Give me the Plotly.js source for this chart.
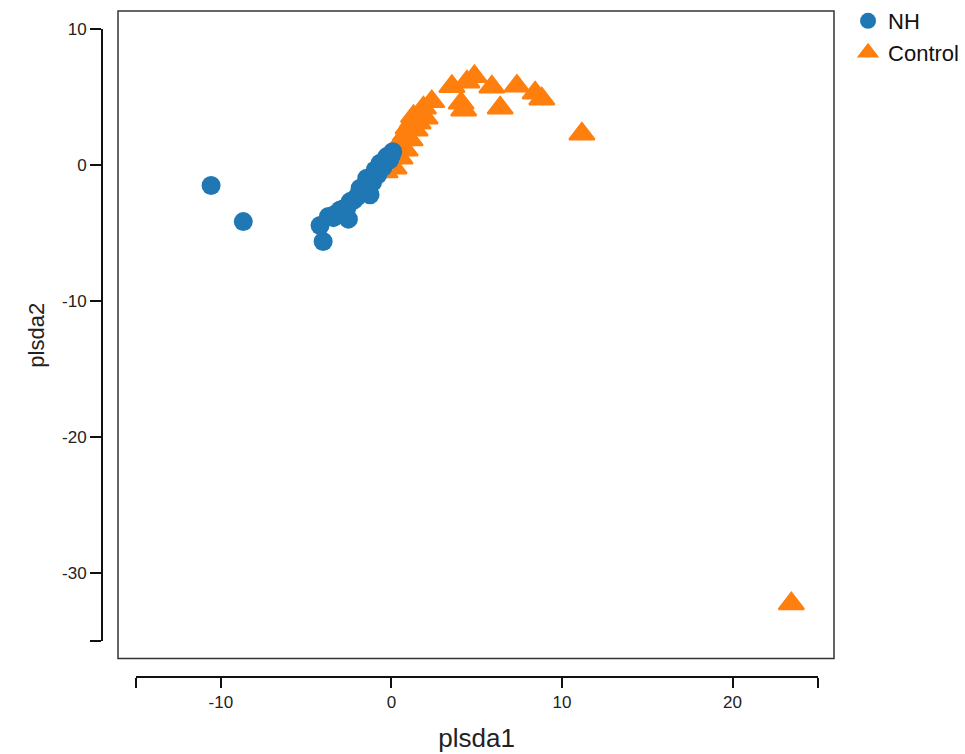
<!DOCTYPE html>
<html>
<head>
<meta charset="utf-8">
<script src="https://cdn.plot.ly/plotly-3.0.1.min.js"></script>
<style>html,body{margin:0;padding:0;background:#fff;}#chart{width:965px;height:754px;}</style>
</head>
<body>
<div id="chart"></div>
<script>
// NH group (blue circles)
const nhX = [-10.57, -8.68, -4.0, -4.18, -3.69, -2.52, -2.42, -3.0, -1.25, -1.83, -2.0, -1.44, -0.95, -0.66, -0.27, 0.08, -3.4, -2.8, -2.2, -1.6, -1.1, -0.8, -0.5, -0.1, -1.35, -0.4, 0.0, -1.9, -2.6, -3.3];
const nhY = [-1.49, -4.14, -5.6, -4.43, -3.77, -3.96, -2.67, -3.28, -2.17, -1.68, -2.3, -0.95, -0.34, 0.15, 0.64, 1.0, -3.85, -3.2, -2.55, -1.8, -1.25, -0.7, -0.15, 0.4, -1.4, 0.3, 0.75, -2.1, -3.1, -3.6];

// Control group (orange triangles)
const ctrlX = [4.87, 4.43, 3.55, 5.89, 7.36, 8.43, 8.82, 4.09, 4.24, 6.38, 11.17, 23.45, 2.37, 1.88, 1.3, 1.69, 1.22, 0.98, 0.81, 0.63, 0.4, 1.1, 0.22, -0.07, -0.25, 0.51, 0.81, 0.16, -0.37, 1.39, 1.98, 1.57];
const ctrlY = [6.53, 6.13, 5.8, 5.76, 5.83, 5.32, 4.88, 4.58, 4.07, 4.22, 2.31, -32.24, 4.69, 4.22, 3.59, 3.85, 3.19, 2.75, 2.23, 1.87, 1.43, 1.87, 0.98, 0.54, 0.18, 0.54, 1.13, -0.19, -0.48, 2.6, 3.48, 3.12];

// Axis ticks
const xTickVals = [-15, -10, 0, 10, 20, 25];
const xTickText = ['', '-10', '0', '10', '20', ''];
const yTickVals = [-35, -30, -20, -10, 0, 10];
const yTickText = ['', '-30', '-20', '-10', '0', '10'];

const seriesNames = ['NH', 'Control'];
const FONT = 'Liberation Sans, Arial, Helvetica, sans-serif';

const traces = [
  {
    x: ctrlX, y: ctrlY, name: seriesNames[1], type: 'scatter', mode: 'markers',
    marker: {symbol: 'triangle-up', size: 22, color: '#ff7f0e', line: {color: '#ff7f0e', width: 2}},
    legendrank: 2, hoverinfo: 'x+y'
  },
  {
    x: nhX, y: nhY, name: seriesNames[0], type: 'scatter', mode: 'markers',
    marker: {symbol: 'circle', size: 19, color: '#1f77b4'},
    legendrank: 1, hoverinfo: 'x+y'
  }
];

const layout = {
  width: 965, height: 754,
  margin: {l: 102, r: 131.3, t: 11, b: 76.5, pad: 0},
  paper_bgcolor: '#ffffff',
  plot_bgcolor: 'rgba(0,0,0,0)',
  font: {family: FONT, color: '#222'},
  showlegend: true,
  legend: {
    xref: 'container', yref: 'container',
    x: 0.8788, xanchor: 'left', y: 1.003, yanchor: 'top',
    font: {family: FONT, size: 22, color: '#111'},
    bgcolor: 'rgba(0,0,0,0)', itemsizing: 'trace', tracegroupgap: 0
  },
  xaxis: {
    domain: [0.04578, 0.97786], range: [-15, 25], anchor: 'free', position: 0,
    showline: true, linecolor: '#111', linewidth: 2,
    ticks: 'outside', ticklen: 10, tickwidth: 2, tickcolor: '#111',
    tickvals: xTickVals, ticktext: xTickText,
    tickfont: {family: FONT, size: 17, color: '#222'},
    showgrid: false, zeroline: false,
    title: {text: 'plsda1', font: {family: FONT, size: 26, color: '#222'}, standoff: 16}
  },
  yaxis: {
    domain: [0.0537, 0.9725], range: [-35, 10], anchor: 'free', position: 0,
    showline: true, linecolor: '#111', linewidth: 2,
    ticks: 'outside', ticklen: 11, tickwidth: 2, tickcolor: '#111',
    tickvals: yTickVals, ticktext: yTickText,
    tickfont: {family: FONT, size: 17, color: '#222'},
    showgrid: false, zeroline: false,
    title: {text: 'plsda2', font: {family: FONT, size: 22, color: '#222'}, standoff: 10}
  },
  shapes: [{
    type: 'rect', xref: 'paper', yref: 'paper',
    x0: 0.02187, x1: 1, y0: 0.02776, y1: 1,
    line: {color: '#333', width: 1.5}, fillcolor: 'rgba(0,0,0,0)', layer: 'below'
  }]
};

Plotly.newPlot('chart', traces, layout, {displayModeBar: false, staticPlot: true});
</script>
</body>
</html>
